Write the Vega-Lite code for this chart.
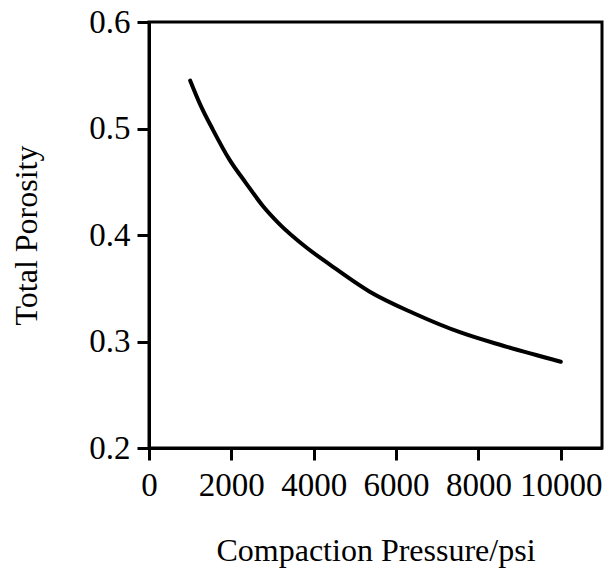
{
  "$schema": "https://vega.github.io/schema/vega-lite/v6.json",
  "width": 453,
  "height": 426,
  "autosize": {"type": "none"},
  "padding": {"left": 149, "top": 22, "right": 4, "bottom": 129},
  "background": "white",
  "config": {
    "view": {"stroke": "black", "strokeWidth": 3},
    "font": "Liberation Serif"
  },
  "data": {
    "values": [
      {"pressure": 1000, "porosity": 0.545},
      {"pressure": 1250, "porosity": 0.522},
      {"pressure": 1550, "porosity": 0.499},
      {"pressure": 1950, "porosity": 0.471},
      {"pressure": 2350, "porosity": 0.449},
      {"pressure": 2750, "porosity": 0.428},
      {"pressure": 3150, "porosity": 0.411},
      {"pressure": 3800, "porosity": 0.389},
      {"pressure": 4400, "porosity": 0.372},
      {"pressure": 5350, "porosity": 0.347},
      {"pressure": 6400, "porosity": 0.327},
      {"pressure": 7600, "porosity": 0.308},
      {"pressure": 8600, "porosity": 0.296},
      {"pressure": 10000, "porosity": 0.281}
    ]
  },
  "mark": {"type": "line", "color": "black", "strokeWidth": 4, "interpolate": "monotone", "strokeCap": "round"},
  "encoding": {
    "x": {
      "field": "pressure",
      "type": "quantitative",
      "scale": {"domain": [0, 11000], "nice": false, "zero": false},
      "axis": {
        "title": "Compaction Pressure/psi",
        "values": [0, 2000, 4000, 6000, 8000, 10000],
        "format": "d",
        "grid": false,
        "domainColor": "black",
        "domainWidth": 3,
        "tickColor": "black",
        "tickWidth": 3,
        "tickSize": 12,
        "labelFont": "Liberation Serif",
        "labelFontSize": 33,
        "labelColor": "black",
        "labelPadding": 9,
        "labelFlush": false,
        "labelOverlap": false,
        "titleFont": "Liberation Serif",
        "titleFontSize": 32,
        "titleFontWeight": "normal",
        "titleColor": "black",
        "titlePadding": 33
      }
    },
    "y": {
      "field": "porosity",
      "type": "quantitative",
      "scale": {"domain": [0.2, 0.6], "nice": false, "zero": false},
      "axis": {
        "title": "Total Porosity",
        "values": [0.2, 0.3, 0.4, 0.5, 0.6],
        "format": ".1f",
        "grid": false,
        "domainColor": "black",
        "domainWidth": 3,
        "tickColor": "black",
        "tickWidth": 3,
        "tickSize": 12,
        "labelFont": "Liberation Serif",
        "labelFontSize": 33,
        "labelColor": "black",
        "labelPadding": 7,
        "labelFlush": false,
        "titleFont": "Liberation Serif",
        "titleFontSize": 32,
        "titleFontWeight": "normal",
        "titleColor": "black",
        "titlePadding": 45
      }
    }
  }
}
